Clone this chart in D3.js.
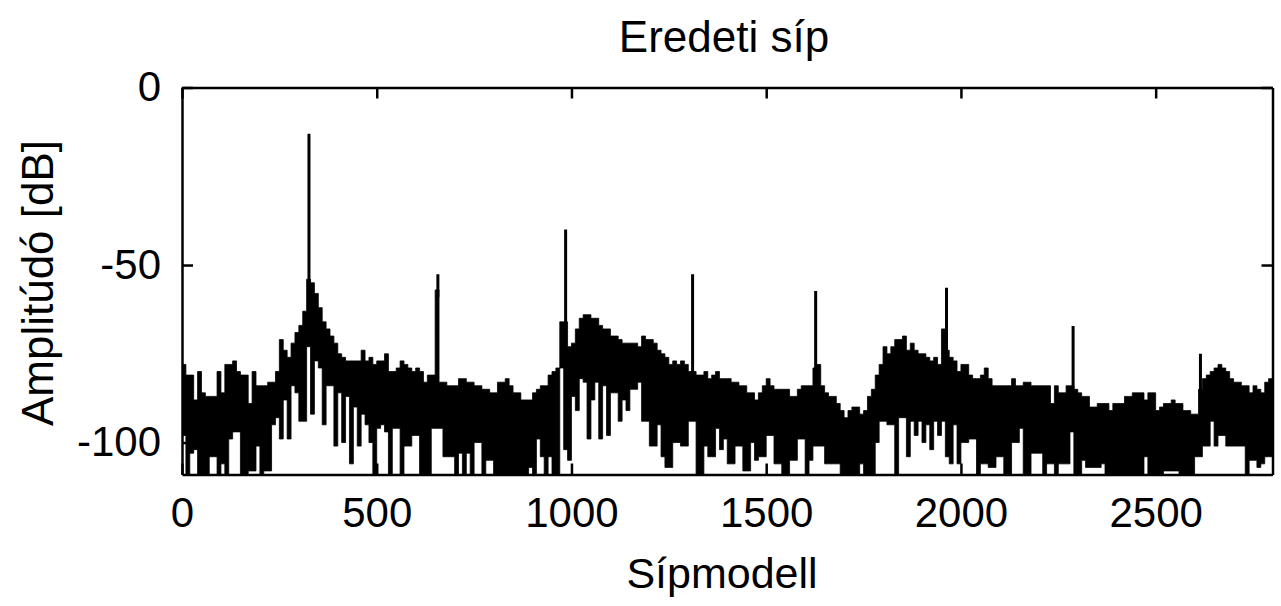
<!DOCTYPE html>
<html><head><meta charset="utf-8">
<script src="https://cdn.jsdelivr.net/npm/d3@7"></script>
<style>
body{margin:0;background:#fff}
svg text{font-family:"Liberation Sans",Arial,Helvetica,sans-serif;fill:#000}
</style>
</head><body>
<svg id="chart" width="1281" height="606"></svg>
<script>
// ---- data ----
const titleText = "Eredeti síp";
const xLabelText = "Sípmodell";
const yLabelText = "Amplitúdó [dB]";
const xTicks = [0, 500, 1000, 1500, 2000, 2500];
const yTicks = [0, -50, -100];
const xDomain = [0, 2800];
const yDomain = [-109, 0];

// spectrum bins (start frequency of each 10 Hz column)
const binStartHz = [
  0,10,20,30,40,50,60,70,80,90, 100,110,120,130,140,150,160,170,180,190,
  200,210,220,230,240,250,260,270,280,290, 300,310,320,330,340,350,360,370,380,390,
  400,410,420,430,440,450,460,470,480,490, 500,510,520,530,540,550,560,570,580,590,
  600,610,620,630,640,650,660,670,680,690, 700,710,720,730,740,750,760,770,780,790,
  800,810,820,830,840,850,860,870,880,890, 900,910,920,930,940,950,960,970,980,990,
  1000,1010,1020,1030,1040,1050,1060,1070,1080,1090, 1100,1110,1120,1130,1140,1150,1160,1170,1180,1190,
  1200,1210,1220,1230,1240,1250,1260,1270,1280,1290, 1300,1310,1320,1330,1340,1350,1360,1370,1380,1390,
  1400,1410,1420,1430,1440,1450,1460,1470,1480,1490, 1500,1510,1520,1530,1540,1550,1560,1570,1580,1590,
  1600,1610,1620,1630,1640,1650,1660,1670,1680,1690, 1700,1710,1720,1730,1740,1750,1760,1770,1780,1790,
  1800,1810,1820,1830,1840,1850,1860,1870,1880,1890, 1900,1910,1920,1930,1940,1950,1960,1970,1980,1990,
  2000,2010,2020,2030,2040,2050,2060,2070,2080,2090, 2100,2110,2120,2130,2140,2150,2160,2170,2180,2190,
  2200,2210,2220,2230,2240,2250,2260,2270,2280,2290, 2300,2310,2320,2330,2340,2350,2360,2370,2380,2390,
  2400,2410,2420,2430,2440,2450,2460,2470,2480,2490, 2500,2510,2520,2530,2540,2550,2560,2570,2580,2590,
  2600,2610,2620,2630,2640,2650,2660,2670,2680,2690, 2700,2710,2720,2730,2740,2750,2760,2770,2780,2790
];
const binEndHz = 2800;

// upper edge of the trace in each column (dB)
const traceHigh = [
  -78,-81,-81,-88,-80,-86,-87,-87,-87,-80,
  -86,-78,-78,-77,-80,-81,-81,-89,-80,-84,
  -84,-84,-83,-83,-80,-71,-74,-76,-72,-69,
  -67,-63,-54,-55,-58,-62,-66,-68,-70,-72,
  -75,-76,-77,-77,-77,-77,-74,-77,-76,-78,
  -77,-77,-75,-80,-80,-79,-77,-78,-79,-80,
  -79,-80,-83,-81,-81,-57,-83,-83,-84,-84,
  -84,-82,-82,-83,-83,-84,-84,-85,-85,-86,
  -86,-83,-83,-82,-84,-86,-86,-88,-88,-88,
  -86,-85,-84,-84,-81,-80,-79,-66,-66,-73,
  -72,-68,-65,-64,-64,-65,-65,-67,-68,-68,
  -70,-70,-71,-72,-72,-72,-72,-73,-70,-71,
  -71,-72,-74,-75,-76,-78,-77,-78,-77,-78,
  -80,-80,-81,-81,-80,-82,-81,-80,-82,-82,
  -82,-83,-83,-84,-84,-86,-86,-88,-86,-84,
  -82,-84,-85,-85,-85,-85,-87,-87,-85,-84,
  -84,-84,-79,-78,-84,-86,-87,-87,-89,-91,
  -93,-91,-90,-90,-92,-91,-87,-85,-81,-78,
  -73,-75,-73,-71,-71,-70,-74,-72,-74,-75,
  -75,-76,-77,-76,-78,-68,-74,-76,-77,-80,
  -78,-78,-81,-82,-82,-81,-79,-82,-84,-84,
  -84,-84,-84,-82,-84,-84,-83,-83,-84,-84,
  -84,-84,-84,-89,-84,-86,-86,-84,-84,-85,
  -86,-87,-87,-90,-90,-89,-89,-89,-91,-89,
  -89,-89,-87,-87,-86,-86,-86,-88,-86,-86,
  -91,-90,-89,-89,-88,-89,-89,-91,-91,-92,
  -92,-85,-82,-81,-80,-79,-78,-79,-80,-82,
  -83,-83,-84,-84,-86,-84,-85,-86,-83,-82
];

// lower edge of the trace in each column (dB; below -109 is clipped)
const traceLow = [
  -98,-110,-103,-102,-110,-110,-110,-104,-104,-110,
  -106,-110,-99,-97,-97,-110,-110,-108,-108,-101,
  -110,-108,-108,-95,-93,-99,-88,-99,-84,-86,
  -94,-94,-73,-92,-77,-79,-95,-84,-84,-101,
  -86,-100,-87,-106,-90,-101,-92,-95,-100,-110,
  -96,-95,-97,-110,-96,-96,-110,-101,-101,-98,
  -98,-110,-110,-110,-96,-96,-96,-104,-104,-104,
  -110,-103,-110,-103,-110,-100,-100,-110,-105,-105,
  -110,-110,-110,-110,-110,-110,-110,-110,-110,-107,
  -110,-99,-104,-110,-104,-110,-110,-79,-102,-105,
  -87,-91,-82,-83,-99,-88,-83,-99,-84,-98,
  -86,-86,-94,-88,-91,-85,-85,-83,-94,-94,
  -101,-101,-95,-104,-107,-107,-100,-100,-101,-101,
  -94,-94,-110,-110,-101,-104,-104,-96,-102,-99,
  -106,-106,-101,-101,-108,-108,-100,-105,-104,-104,
  -98,-98,-106,-106,-110,-110,-105,-105,-99,-99,
  -110,-105,-101,-101,-101,-106,-106,-106,-106,-110,
  -110,-110,-110,-110,-106,-110,-110,-110,-100,-94,
  -94,-95,-95,-110,-93,-93,-104,-94,-98,-94,
  -100,-95,-102,-94,-98,-94,-104,-106,-95,-106,
  -100,-100,-99,-99,-110,-106,-106,-107,-107,-104,
  -104,-110,-110,-100,-100,-96,-110,-110,-103,-103,
  -103,-110,-106,-106,-110,-106,-106,-106,-97,-110,
  -110,-105,-107,-107,-107,-107,-106,-110,-110,-110,
  -110,-110,-110,-110,-110,-110,-110,-104,-110,-110,
  -110,-110,-108,-108,-108,-108,-110,-110,-110,-110,
  -104,-104,-101,-101,-94,-101,-98,-98,-101,-101,
  -101,-101,-101,-110,-105,-105,-107,-106,-104,-104
];

// harmonic peaks (narrow lines)
const peakHz = [326, 657, 985, 1311, 1627, 1963, 2288, 2615];
const peakDb = [-13, -52.6, -40, -52.6, -57.3, -56.4, -67.2, -75];

// ---- drawing ----
const svg = d3.select("#chart");
const plot = {left: 182, right: 1272.5, top: 87.5, bottom: 474.5};
const x = d3.scaleLinear().domain(xDomain).range([plot.left, plot.right]);
const y = d3.scaleLinear().domain(yDomain).range([plot.bottom, plot.top]);

svg.append("defs").append("clipPath").attr("id", "clip")
  .append("rect").attr("x", plot.left).attr("y", plot.top)
  .attr("width", plot.right - plot.left).attr("height", plot.bottom - plot.top);

const bins = binStartHz.map((f, i) => ({f, hi: traceHigh[i], lo: traceLow[i]}));
bins.push({f: binEndHz, hi: traceHigh[traceHigh.length - 1], lo: traceLow[traceLow.length - 1]});

const area = d3.area().curve(d3.curveStepAfter)
  .x(d => x(d.f)).y0(d => y(d.lo)).y1(d => y(d.hi));

const g = svg.append("g").attr("clip-path", "url(#clip)");
g.append("path").datum(bins).attr("d", area)
  .attr("fill", "#000").attr("stroke", "#000").attr("stroke-width", 0.8);

function binHighAt(f) {
  let idx = 0;
  for (let i = 0; i < binStartHz.length; i++) if (binStartHz[i] <= f) idx = i;
  return traceHigh[idx];
}
g.selectAll("line.peak").data(peakHz).join("line").attr("class", "peak")
  .attr("x1", d => x(d)).attr("x2", d => x(d))
  .attr("y1", d => y(binHighAt(d) - 2))
  .attr("y2", (d, i) => y(peakDb[i]))
  .attr("stroke", "#000").attr("stroke-width", 3);

// axes (box with inward ticks, MATLAB style)
const fontPx = 42;
const fmt = d => String(d);
const axB = svg.append("g").attr("transform", `translate(0,${plot.bottom})`)
  .call(d3.axisBottom(x).tickValues(xTicks).tickFormat(fmt).tickSizeInner(-11).tickSizeOuter(0).tickPadding(23));
const axL = svg.append("g").attr("transform", `translate(${plot.left},0)`)
  .call(d3.axisLeft(y).tickValues(yTicks).tickFormat(fmt).tickSizeInner(-11).tickSizeOuter(0).tickPadding(21));
const axT = svg.append("g").attr("transform", `translate(0,${plot.top})`)
  .call(d3.axisTop(x).tickValues(xTicks).tickSizeInner(-11).tickSizeOuter(0).tickFormat(""));
const axR = svg.append("g").attr("transform", `translate(${plot.right},0)`)
  .call(d3.axisRight(y).tickValues(yTicks).tickSizeInner(-11).tickSizeOuter(0).tickFormat(""));

[axB, axL, axT, axR].forEach(a => {
  a.attr("font-size", fontPx).attr("font-family", null);
  a.select(".domain").attr("stroke", "#000").attr("stroke-width", 2.5);
  a.selectAll(".tick line").attr("stroke", "#000").attr("stroke-width", 2.5);
  a.selectAll(".tick text").attr("fill", "#000");
});

svg.append("text").attr("x", 724).attr("y", 52).attr("text-anchor", "middle")
  .attr("font-size", 44).text(titleText);
svg.append("text").attr("x", 722).attr("y", 588).attr("text-anchor", "middle")
  .attr("font-size", 43).text(xLabelText);
svg.append("text").attr("transform", "translate(53,283) rotate(-90)")
  .attr("text-anchor", "middle").attr("font-size", 44).text(yLabelText);
</script>
</body></html>
